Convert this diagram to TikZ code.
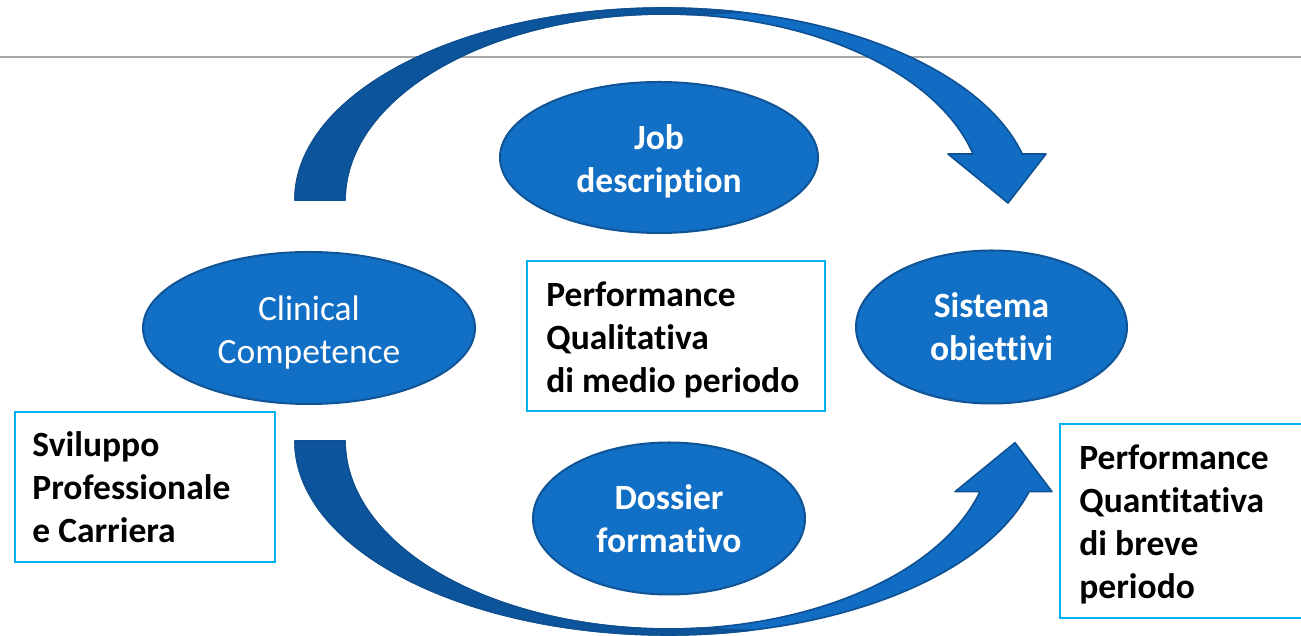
\documentclass[tikz,border=0pt]{standalone}
\usepackage{fontspec}
\setmainfont{Carlito}[Ligatures=NoCommon]
\usetikzlibrary{shapes.geometric,calc,positioning}
\definecolor{ovalblue}{RGB}{17,111,197}
\definecolor{ovaledge}{RGB}{16,84,150}
\definecolor{arrowblue}{RGB}{17,109,196}
\definecolor{arrowdark}{RGB}{12,84,155}
\definecolor{arrowedge}{RGB}{14,80,145}
\definecolor{boxedge}{RGB}{0,176,240}
\definecolor{rulegray}{RGB}{165,165,165}
\newcommand{\diagfont}{\fontsize{17.75}{21.5}\selectfont}
\newcommand{\topstrut}{\rule{0pt}{16.5pt}}
\begin{document}
\begin{tikzpicture}[x=0.5pt, y=0.5pt,
    oval/.style = {ellipse, draw=ovaledge, line width=1pt, fill=ovalblue, inner sep=0pt, text=white, align=center, font=\diagfont\bfseries},
    infobox/.style = {draw=boxedge, line width=1pt, fill=white, inner sep=0pt},
    boxtext/.style = {anchor=west, align=left, inner sep=0pt, font=\diagfont\bfseries},
    curvearrow/.style = {fill=arrowblue, draw=arrowedge, line width=0.8pt, line join=round},
    backpart/.style = {fill=arrowdark, draw=arrowedge, line width=0.8pt, line join=round}]
    \useasboundingbox (0,0) rectangle (1301,636);
    \draw[rulegray, line width=1pt] (0,579) -- (1301,579);
    % arrow on top
    \coordinate (topc) at (664,436);
    \filldraw[curvearrow] ($(topc)+(180:369 and 192)$) arc[start angle=180, end angle=13.86, x radius=184.5pt, y radius=96pt]
        -- (1046,482) -- (1008,433) -- (948,482)
        -- ($(topc)+(14.32:319 and 186)$) arc[start angle=14.32, end angle=180, x radius=159.5pt, y radius=93pt] -- cycle;
    \filldraw[backpart] ($(topc)+(180:369 and 192)$) arc[start angle=180, end angle=78, x radius=184.5pt, y radius=96pt]
        -- ($(topc)+(85:319 and 186)$) arc[start angle=85, end angle=180, x radius=159.5pt, y radius=93pt] -- cycle;
    % arrow at bottom
    \coordinate (botc) at (668.5,195);
    \filldraw[curvearrow] ($(botc)+(180:373.5 and 194)$) arc[start angle=180, end angle=344.85, x radius=186.75pt, y radius=97pt]
        -- (1052,144.3) -- (1015,193.3) -- (955,144.3)
        -- ($(botc)+(344.36:323.5 and 188)$) arc[start angle=344.36, end angle=180, x radius=161.75pt, y radius=94pt] -- cycle;
    \filldraw[backpart] ($(botc)+(180:373.5 and 194)$) arc[start angle=180, end angle=282.6, x radius=186.75pt, y radius=97pt]
        -- ($(botc)+(275.6:323.5 and 188)$) arc[start angle=275.6, end angle=180, x radius=161.75pt, y radius=94pt] -- cycle;
    % ovals
    \node[oval, minimum width=159pt, minimum height=75.5pt] (job) at (659,478.5) {\topstrut Job\\description};
    \node[oval, minimum width=166pt, minimum height=76pt, font=\diagfont] (clin) at (309,308) {\topstrut Clinical\\Competence};
    \node[oval, minimum width=135.5pt, minimum height=76.5pt] (sist) at (991.5,309) {Sistema\\obiettivi};
    \node[oval, minimum width=136pt, minimum height=76pt] (doss) at (669,117.5) {Dossier\\formativo};
    % boxes
    \node[infobox, minimum width=149pt, minimum height=75pt] (qual) at (676,300) {};
    \node[boxtext] (qualtext) at ([xshift=10pt, yshift=-2pt]qual.west) {Performance\\Qualitativa\\di medio periodo};
    \node[infobox, minimum width=130pt, minimum height=75pt] (svil) at (145,149) {};
    \node[boxtext] (sviltext) at ([xshift=9pt]svil.west) {Sviluppo\\Professionale\\e Carriera};
    \node[infobox, minimum width=130pt, minimum height=97pt] (quant) at (1190,115) {};
    \node[boxtext] (quanttext) at ([xshift=10pt, yshift=-1.5pt]quant.west) {Performance\\Quantitativa\\di breve\\periodo};
\end{tikzpicture}
\end{document}
